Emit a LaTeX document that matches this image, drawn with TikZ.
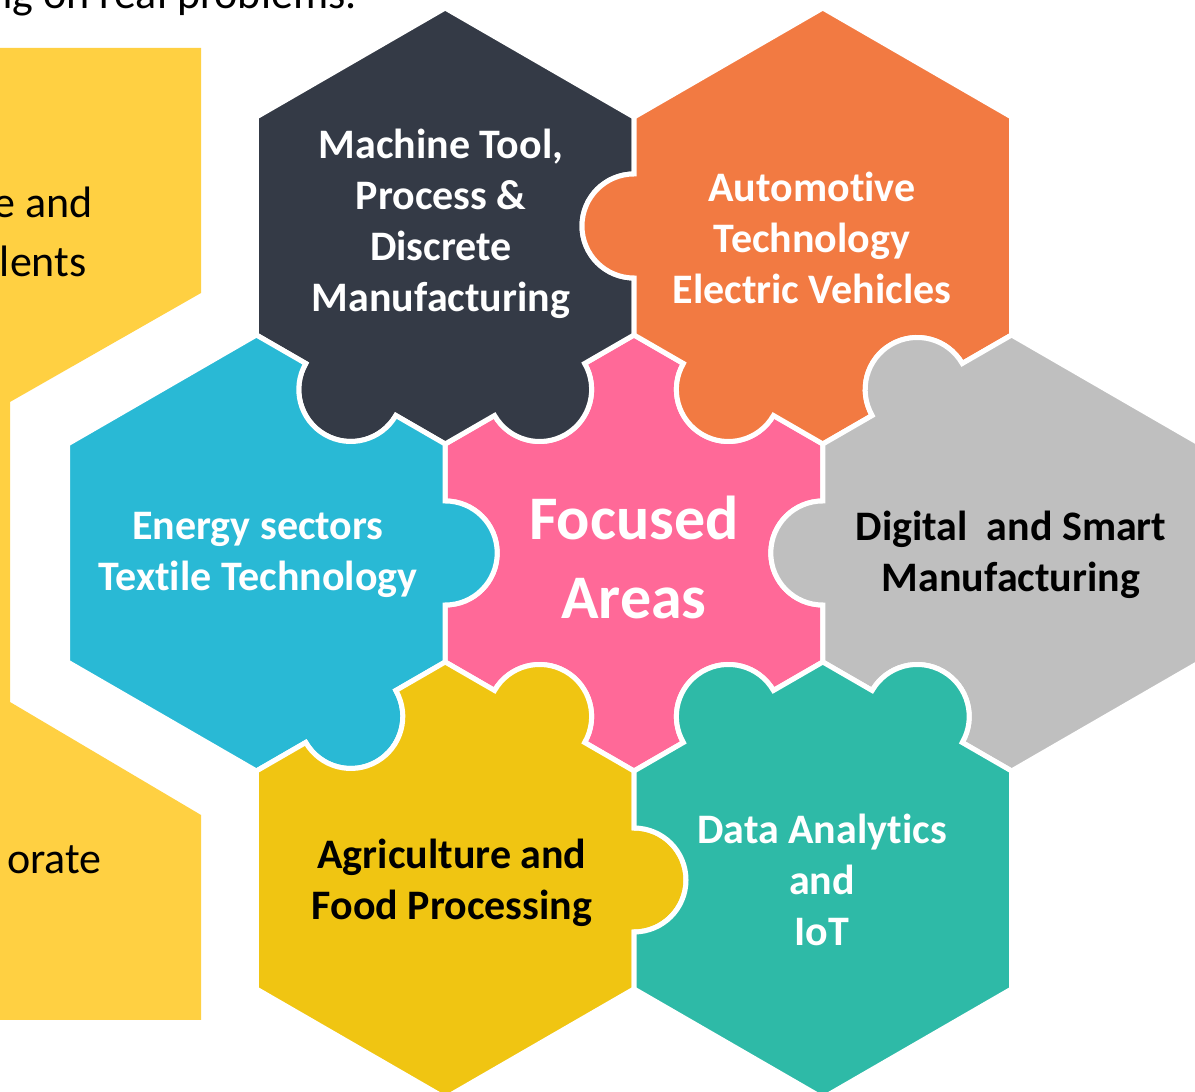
\documentclass[tikz,border=0pt]{standalone}
\usepackage{fontspec}
\setmainfont{Carlito}[Ligatures={NoCommon}]
\begin{document}
\begin{tikzpicture}[x=0.50pt, y=0.50pt, piece/.style={draw=white, line width=2.50pt}, tabtext/.style={align=center, inner sep=0pt, font=\fontsize{21}{25.5}\selectfont\bfseries}, sidetext/.style={anchor=base east, inner sep=0pt, font=\fontsize{22}{29}\selectfont}]
\useasboundingbox (0,0) rectangle (1195,1092);
\clip (0,0) rectangle (1195,1092);
\definecolor{Y0}{RGB}{255,208,66}
\path[fill=Y0] (0,1044) -- (201,1044) -- (201,799) -- (10,690) -- (10,390) -- (201,277) -- (201,72) -- (0,72) -- cycle;
\node[sidetext] (top) at (357,1083) {ng on real problems.};
\node[sidetext] (sideA) at (93,874) {e and};
\node[sidetext] (sideB) at (87,815) {lents};
\node[sidetext] (sideC) at (102,218) {orate};
\definecolor{P}{RGB}{255,105,152}
\path[piece, fill=P] (822.79,648) -- ++(150:57) arc[start angle=330, delta angle=-180, radius=52] -- ++(150:57) -- ++(210:57) arc[start angle=30, delta angle=-180, radius=52] -- ++(210:57) -- ++(270:57) arc[start angle=90, delta angle=-180, radius=52] -- ++(270:57) -- ++(330:57) arc[start angle=150, delta angle=-180, radius=52] -- ++(330:57) -- ++(30:57) arc[start angle=210, delta angle=-180, radius=52] -- ++(30:57) -- ++(90:57) arc[start angle=270, delta angle=-180, radius=52] -- cycle;
\definecolor{D}{RGB}{52,58,70}
\path[piece, fill=D] (634,975) -- ++(150:218) -- ++(210:218) -- ++(270:218) -- ++(330:57) arc[start angle=150, delta angle=180, radius=52] -- ++(330:57) -- ++(30:57) arc[start angle=210, delta angle=180, radius=52] -- ++(30:57) -- ++(90:57) arc[start angle=270, delta angle=-180, radius=52] -- cycle;
\definecolor{O}{RGB}{242,122,66}
\path[piece, fill=O] (1011.6,975) -- ++(150:218) -- ++(210:218) -- ++(270:57) arc[start angle=90, delta angle=180, radius=52] -- ++(270:57) -- ++(330:57) arc[start angle=150, delta angle=180, radius=52] -- ++(330:57) -- ++(30:57) arc[start angle=210, delta angle=-180, radius=52] -- ++(30:57) -- cycle;
\definecolor{G}{RGB}{191,191,191}
\path[piece, fill=G] (1200.4,648) -- ++(150:218) -- ++(210:57) arc[start angle=30, delta angle=180, radius=52] -- ++(210:57) -- ++(270:57) arc[start angle=90, delta angle=180, radius=52] -- ++(270:57) -- ++(330:57) arc[start angle=150, delta angle=-180, radius=52] -- ++(330:57) -- ++(30:218) -- cycle;
\definecolor{B}{RGB}{41,185,213}
\path[piece, fill=B] (445.2,648) -- ++(150:57) arc[start angle=330, delta angle=-180, radius=52] -- ++(150:57) -- ++(210:218) -- ++(270:218) -- ++(330:218) -- ++(30:57) arc[start angle=210, delta angle=180, radius=52] -- ++(30:57) -- ++(90:57) arc[start angle=270, delta angle=180, radius=52] -- cycle;
\definecolor{Y}{RGB}{240,197,18}
\path[piece, fill=Y] (634,321) -- ++(150:57) arc[start angle=330, delta angle=180, radius=52] -- ++(150:57) -- ++(210:57) arc[start angle=30, delta angle=-180, radius=52] -- ++(210:57) -- ++(270:218) -- ++(330:218) -- ++(30:218) -- ++(90:57) arc[start angle=270, delta angle=180, radius=52] -- cycle;
\definecolor{T}{RGB}{46,186,167}
\path[piece, fill=T] (1011.6,321) -- ++(150:57) arc[start angle=330, delta angle=180, radius=52] -- ++(150:57) -- ++(210:57) arc[start angle=30, delta angle=180, radius=52] -- ++(210:57) -- ++(270:57) arc[start angle=90, delta angle=-180, radius=52] -- ++(270:57) -- ++(330:218) -- ++(30:218) -- cycle;
\node[tabtext, white] (machine) at (441,868) {Machine Tool,\\Process \&\\Discrete\\Manufacturing};
\node[tabtext, white] (auto) at (812,854) {Automot\kern0pt ive\\Technology\\Electric Vehicles};
\node[tabtext, white] (energy) at (258,537) {Energy sectors\\Text\kern0pt ile Technology};
\node[tabtext, white, font=\fontsize{31}{39.5}\selectfont\bfseries] (focus) at (634,535) {Focused\\Areas};
\node[tabtext, black] (digital) at (1011,537) {Digital~ and Smart\\Manufacturing};
\node[tabtext, black] (agri) at (452,209) {Agriculture and\\Food Processing};
\node[tabtext, white] (data) at (822,212) {Data Analyt\kern0pt ics\\and\\IoT};
\end{tikzpicture}
\end{document}
